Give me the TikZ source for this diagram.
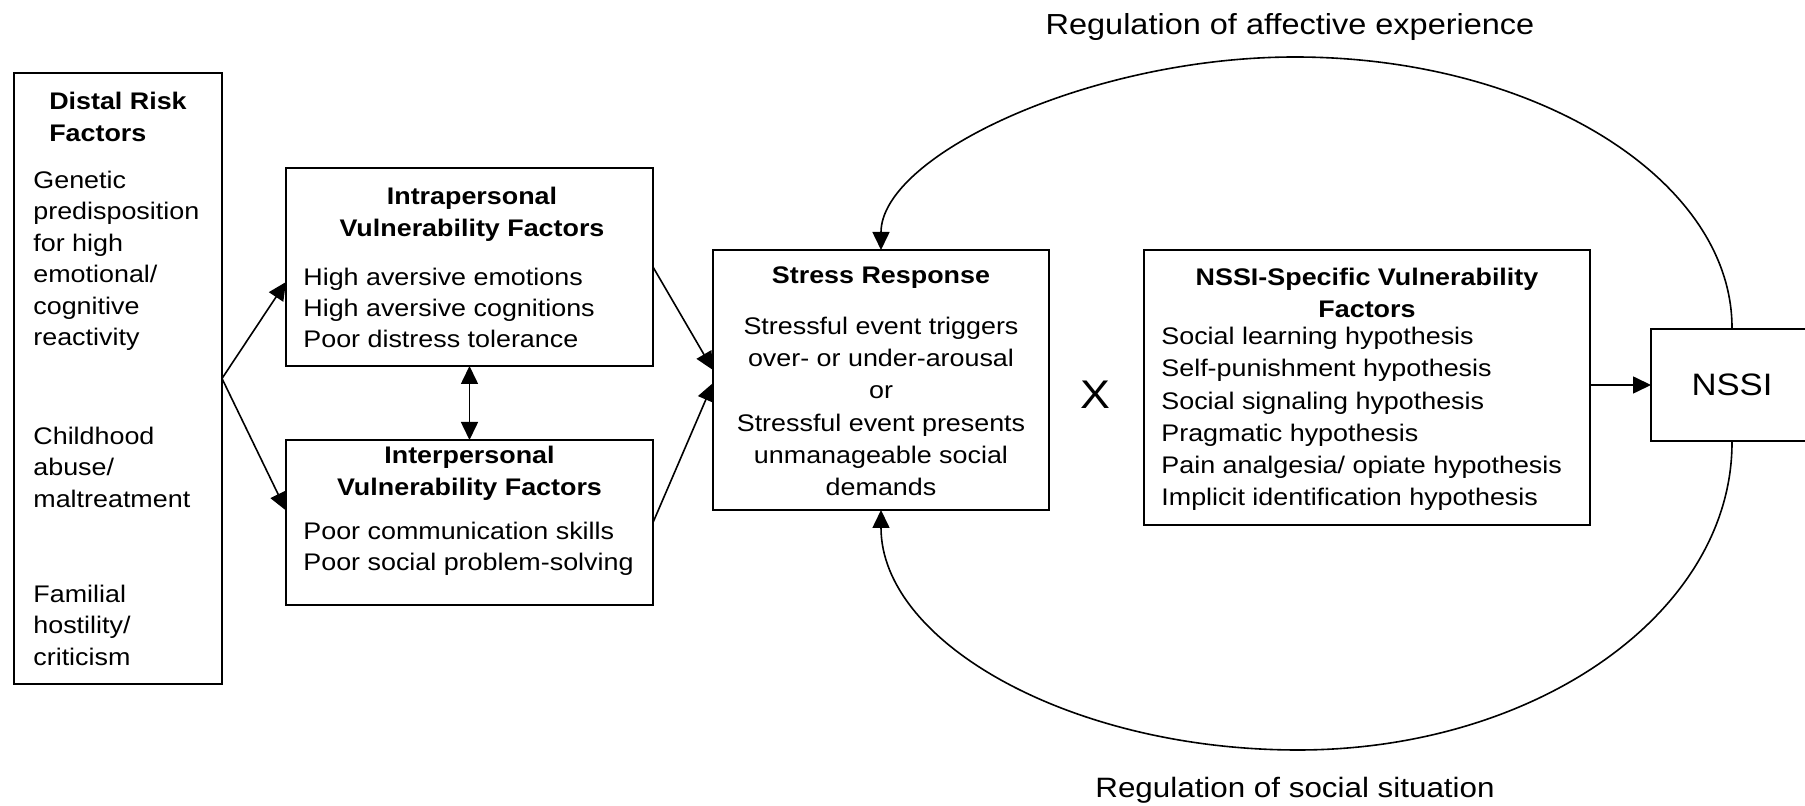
\documentclass[tikz,border=0pt]{standalone}
\usepackage{fontspec}
\setmainfont{Liberation Sans}[FakeStretch=1.12]
\usetikzlibrary{arrows.meta,calc}
\begin{document}
\begin{tikzpicture}[x=0.5pt,y=-0.5pt,
  box/.style={draw,line width=1pt,inner sep=0pt,outer sep=0pt},
  arr/.style={line width=0.8pt,-{Triangle[length=9pt,width=8.5pt]}},
  dblarr/.style={line width=0.8pt,{Triangle[length=9pt,width=8.5pt]}-{Triangle[length=9pt,width=8.5pt]}},
  body/.style={font=\fontsize{12}{15.5}\selectfont,inner sep=0pt},
  ttl/.style={font=\fontsize{12}{16}\selectfont\bfseries,inner sep=0pt,align=center},
  lbl/.style={font=\fontsize{14}{16}\selectfont,inner sep=0pt}]
\useasboundingbox (0,0) rectangle (1805,806);
\fill[white] (0,0) rectangle (1805,806);

% boxes
\node[box,minimum width=104pt,minimum height=305.5pt] (distal) at (118,378.5) {};
\node[box,minimum width=183.5pt,minimum height=99pt] (intra) at (469.5,267) {};
\node[box,minimum width=183.5pt,minimum height=82.5pt] (inter) at (469.5,522.5) {};
\node[box,minimum width=168pt,minimum height=130pt] (stress) at (881,380) {};
\node[box,minimum width=223pt,minimum height=137.5pt] (spec) at (1367,387.5) {};
\node[box,minimum width=81pt,minimum height=56pt,font=\fontsize{15.5}{18}\selectfont] (nssi) at (1732,385) {NSSI};

% distal texts
\node[ttl,align=left] (distalT) at (118,117) {Distal Risk\\Factors};
\node[body,align=left,anchor=west,font=\fontsize{12}{15.75}\selectfont] (distalA) at (33,261) {Genetic\\predisposition\\for high\\emotional/\\cognitive\\reactivity};
\node[body,align=left,anchor=west,font=\fontsize{12}{15.75}\selectfont] (distalB) at (33,467) {Childhood\\abuse/\\maltreatment};
\node[body,align=left,anchor=west,font=\fontsize{12}{15.75}\selectfont] (distalC) at (33,625) {Familial\\hostility/\\criticism};

% intrapersonal
\node[ttl] (intraT) at (472,214) {Intrapersonal\\Vulnerability Factors};
\node[body,align=left,anchor=west] (intraB) at (303,308) {High aversive emotions\\High aversive cognitions\\Poor distress tolerance};

% interpersonal
\node[ttl] (interT) at (469.5,473) {Interpersonal\\Vulnerability Factors};
\node[body,align=left,anchor=west] (interB) at (303,549) {Poor communication skills\\Poor social problem-solving};

% stress
\node[ttl] (stressT) at (881,278) {Stress Response};
\node[body,align=center,font=\fontsize{12}{16.1}\selectfont] (stressB) at (881,406.5) {Stressful event triggers\\over- or under-arousal\\or\\Stressful event presents\\unmanageable social\\demands};

% NSSI specific
\node[ttl] (specT) at (1367,293) {NSSI-Specific Vulnerability\\Factors};
\node[body,align=left,anchor=west,font=\fontsize{12}{16.1}\selectfont] (specB) at (1161,419) {Social learning hypothesis\\Self-punishment hypothesis\\Social signaling hypothesis\\Pragmatic hypothesis\\Pain analgesia/ opiate hypothesis\\Implicit identification hypothesis};

% X
\node[font=\fontsize{20}{22}\selectfont,inner sep=0pt] (times) at (1095,395) {X};

% labels
\node[lbl,font=\fontsize{14.5}{16}\selectfont] (topLbl) at (1290,27) {Regulation of affective experience};
\node[lbl] (botLbl) at (1295,790) {Regulation of social situation};

% connectors
\coordinate (fork) at (distal.east);
\draw[arr] (fork) -- ($(intra.west)+(0,15)$);
\draw[arr] (fork) -- ($(inter.west)+(0,-12)$);
\draw[dblarr] (intra.south) -- (inter.north);
\draw[arr] (intra.east) -- ($(stress.west)+(0,-10)$);
\draw[arr] (inter.east) -- ($(stress.west)+(0,3)$);
\draw[arr] (spec.east |- nssi.west) -- (nssi.west);

\coordinate (topApex) at (1295,57);
\coordinate (botApex) at (1298,750);
\draw[arr] (nssi.north) .. controls (1733,180) and (1536,57) .. (topApex)
  .. controls (1089,57) and (881,156) .. (stress.north);
\draw[arr] (nssi.south) .. controls (1733,612) and (1537,750) .. (botApex)
  .. controls (1070,750) and (881,642) .. (stress.south);
\end{tikzpicture}
\end{document}
